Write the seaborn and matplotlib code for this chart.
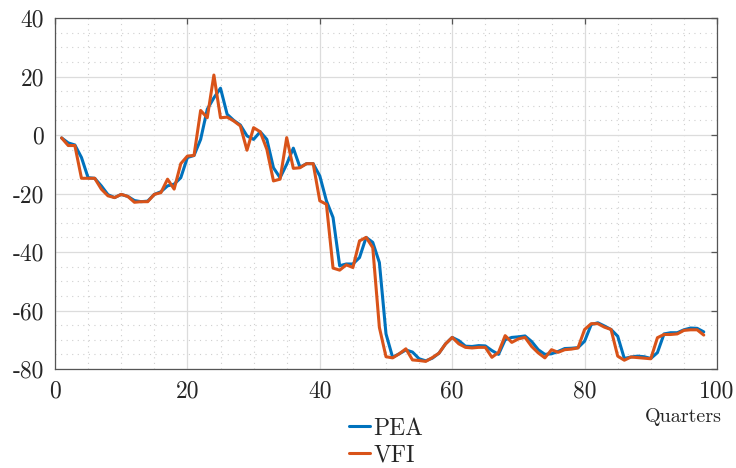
import numpy as np
import pandas as pd
import matplotlib
matplotlib.use("Agg")
import matplotlib.pyplot as plt
from matplotlib.ticker import MultipleLocator
from matplotlib.lines import Line2D
import seaborn as sns

quarters = list(range(1, 99))
pea = [-1, -2.7, -3.4, -7.7, -14.6, -14.8, -17.4, -20.4, -21.4, -20.3,
       -21, -22.4, -22.8, -22.6, -20.3, -19.4, -17.4, -16.8, -14.6, -7.7,
       -7, -1.5, 8.8, 12.7, 16, 7.1, 5, 3.4, -0.3, -1.5,
       1.1, -1.5, -11.2, -14.6, -10, -4.5, -11, -9.8, -9.8, -14,
       -22.5, -28.2, -44.7, -44.1, -44.1, -41.9, -35, -36.7, -43.6, -68,
       -76, -74.8, -73.5, -74.2, -76.5, -77.2, -76.3, -74.6, -71.4, -69.2,
       -70.3, -72.2, -72.3, -72, -72.1, -73.7, -75, -70, -69.2, -69,
       -68.7, -70.6, -73.4, -75, -74.8, -74, -73, -72.9, -72.7, -70.5,
       -64.8, -64.2, -65.3, -66.5, -68.8, -76.4, -75.9, -75.6, -75.8, -76.4,
       -74.4, -68, -67.6, -67.6, -66.6, -66, -66.1, -67.3]
vfi = [-1, -3.6, -3.6, -14.8, -14.8, -14.8, -18.5, -20.8, -21.4, -20.3,
       -21, -23, -22.8, -22.8, -20.3, -19.7, -15.1, -18.5, -9.8, -7.2,
       -7, 8.4, 5.9, 20.5, 5.9, 6.1, 4.8, 3.1, -5.2, 2.5,
       1.1, -4.9, -15.7, -15.1, -0.9, -11.4, -11.2, -9.8, -9.8, -22.5,
       -23.7, -45.5, -46.2, -44.4, -45.3, -36.2, -35, -38.5, -65.8, -75.8,
       -76.2, -74.8, -73.1, -76.9, -77.1, -77.4, -76.1, -74.6, -71.4, -69.2,
       -71.4, -72.6, -72.8, -72.6, -72.6, -76, -74.3, -68.6, -70.9, -69.7,
       -69.2, -72.3, -74.5, -76.2, -73.4, -74.3, -73.4, -73.2, -72.8, -66.5,
       -64.5, -64.5, -65.7, -66.5, -75.6, -77, -75.9, -76.1, -76.3, -76.5,
       -69.3, -68.2, -68.2, -68, -66.8, -66.6, -66.6, -68.4]

series_names = ["PEA", "VFI"]
colors = ["#0072BD", "#D95319"]
x_ticks = [0, 20, 40, 60, 80, 100]
y_ticks = [-80, -60, -40, -20, 0, 20, 40]

df = pd.DataFrame({
    "Quarter": quarters * 2,
    "Value": pea + vfi,
    "Series": ["PEA"] * len(pea) + ["VFI"] * len(vfi),
})

sns.set_style("white")
plt.rcParams["font.family"] = ["cmr10", "DejaVu Serif"]
plt.rcParams["axes.unicode_minus"] = False
plt.rcParams["axes.formatter.use_mathtext"] = False
plt.rcParams["savefig.bbox"] = "standard"

fig = plt.figure(figsize=(7.36, 4.68), dpi=100)
ax = fig.add_axes([55 / 736, 1 - 369 / 468, (717 - 55) / 736, (369 - 18) / 468])

sns.lineplot(data=df, x="Quarter", y="Value", hue="Series", hue_order=series_names,
             palette=colors, linewidth=2.2, ax=ax, legend=False)

ax.set_xlim(0, 100)
ax.set_ylim(-80, 40)
ax.set_xticks(x_ticks)
ax.set_yticks(y_ticks)
ax.set_xticklabels([str(v) for v in x_ticks])
ax.set_yticklabels([str(v) for v in y_ticks])
ax.xaxis.set_minor_locator(MultipleLocator(5))
ax.yaxis.set_minor_locator(MultipleLocator(5))
ax.grid(which="major", color="#dcdcdc", linewidth=0.9, linestyle="-")
ax.grid(which="minor", color="#cfcfcf", linewidth=0.8, linestyle=(0, (1, 4)))
ax.set_axisbelow(True)
for s in ax.spines.values():
    s.set_visible(True)
    s.set_color("#555555")
    s.set_linewidth(0.9)
ax.tick_params(which="major", direction="in", length=4, width=0.9, color="#555555",
               top=True, right=True, labelsize=17, pad=8)
ax.tick_params(which="minor", length=0)
ax.set_ylabel("")
ax.set_xlabel("Quarters", fontsize=14.5)
ax.xaxis.set_label_coords((683 - 55) / 662, -(408 - 369) / 351)

handles = [Line2D([], [], color=c, linewidth=2.2) for c in colors]
fig.legend(handles, series_names, loc="upper left", bbox_to_anchor=(340 / 736, 1 - 408 / 468),
           frameon=False, fontsize=17, handlelength=0.85, handletextpad=0.15,
           labelspacing=0.2, borderaxespad=0)

fig.savefig("out.png", dpi=100)
